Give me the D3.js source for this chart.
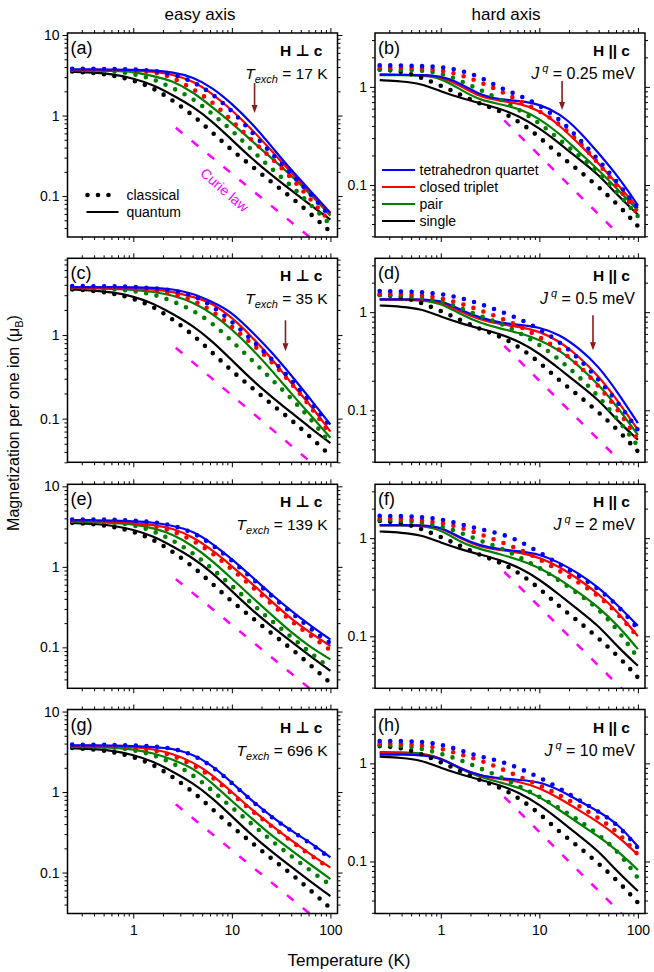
<!DOCTYPE html>
<html>
<head>
<meta charset="utf-8">
<script src="https://cdn.jsdelivr.net/npm/d3@7/dist/d3.min.js"></script>
<style>
  body { margin: 0; background: #fff; }
  svg { display: block; font-family: "Liberation Sans", Arial, "DejaVu Sans", sans-serif; }
</style>
</head>
<body>
<svg id="chart" width="654" height="972"></svg>
<script>
// temperature grid (K) shared by every curve
const temps = [0.24, 0.4, 0.63, 1, 1.6, 2.5, 4, 6.3, 10, 16, 25, 40, 63, 100];

// single ion, same in every panel of a column (Q = quantum, C = classical)
const singleEasyQ = [3.5, 3.42, 3.25, 2.9, 2.4, 1.8, 1.3, 0.85, 0.5, 0.29, 0.185, 0.118, 0.077, 0.051];
const singleEasyC = [3.52, 3.4, 3.15, 2.75, 2.2, 1.55, 1.02, 0.62, 0.37, 0.235, 0.15, 0.097, 0.06, 0.036];
const singleHardQ = [1.17, 1.14, 1.08, 0.9, 0.77, 0.68, 0.6, 0.5, 0.38, 0.265, 0.185, 0.128, 0.077, 0.05];
const singleHardC = [1.5, 1.45, 1.25, 1.03, 0.83, 0.67, 0.57, 0.44, 0.31, 0.2, 0.142, 0.095, 0.063, 0.038];

// (a) easy axis, Texch = 17 K
const quartetQ_a = [3.74, 3.74, 3.72, 3.7, 3.63, 3.46, 3.03, 2.23, 1.41, 0.8, 0.42, 0.21, 0.115, 0.062];
const tripletQ_a = [3.7, 3.69, 3.66, 3.63, 3.5, 3.25, 2.7, 1.88, 1.17, 0.67, 0.37, 0.195, 0.11, 0.06];
const pairQ_a = [3.65, 3.62, 3.58, 3.5, 3.1, 2.7, 1.97, 1.28, 0.81, 0.48, 0.3, 0.18, 0.105, 0.057];
const quartetC_a = [3.82, 3.8, 3.78, 3.74, 3.63, 3.3, 2.67, 1.88, 1.15, 0.62, 0.34, 0.19, 0.105, 0.055];
const tripletC_a = [3.75, 3.74, 3.72, 3.66, 3.5, 3.0, 2.15, 1.5, 0.86, 0.49, 0.3, 0.17, 0.09, 0.048];
const pairC_a = [3.7, 3.65, 3.56, 3.3, 2.85, 2.2, 1.65, 1.05, 0.66, 0.37, 0.22, 0.135, 0.078, 0.044];

// (c) easy axis, Texch = 35 K
const quartetQ_c = [3.76, 3.76, 3.75, 3.73, 3.7, 3.56, 3.16, 2.51, 1.89, 1.09, 0.64, 0.33, 0.17, 0.085];
const tripletQ_c = [3.7, 3.69, 3.66, 3.63, 3.53, 3.31, 2.88, 2.44, 1.63, 0.95, 0.535, 0.265, 0.144, 0.07];
const pairQ_c = [3.65, 3.62, 3.58, 3.5, 3.3, 3.0, 2.49, 1.82, 1.18, 0.685, 0.386, 0.2, 0.11, 0.059];
const quartetC_c = [3.85, 3.85, 3.83, 3.78, 3.65, 3.45, 3.05, 2.25, 1.45, 0.87, 0.53, 0.29, 0.158, 0.08];
const tripletC_c = [3.75, 3.74, 3.7, 3.62, 3.45, 3.15, 2.63, 1.98, 1.26, 0.79, 0.49, 0.265, 0.14, 0.064];
const pairC_c = [3.7, 3.66, 3.55, 3.37, 3.1, 2.55, 2.0, 1.4, 0.85, 0.5, 0.3, 0.175, 0.1, 0.05];

// (e) easy axis, Texch = 139 K
const quartetQ_e = [3.81, 3.8, 3.75, 3.67, 3.57, 3.24, 2.8, 1.96, 1.25, 0.75, 0.46, 0.283, 0.185, 0.125];
const tripletQ_e = [3.72, 3.7, 3.62, 3.5, 3.33, 3.03, 2.36, 1.62, 1.02, 0.62, 0.375, 0.225, 0.151, 0.104];
const pairQ_e = [3.65, 3.6, 3.5, 3.4, 3.03, 2.55, 1.83, 1.2, 0.714, 0.42, 0.257, 0.153, 0.1, 0.071];
const quartetC_e = [3.88, 3.87, 3.85, 3.75, 3.6, 3.3, 2.7, 1.9, 1.2, 0.72, 0.44, 0.27, 0.17, 0.112];
const tripletC_e = [3.78, 3.76, 3.72, 3.55, 3.25, 2.8, 2.15, 1.5, 0.93, 0.57, 0.35, 0.21, 0.14, 0.092];
const pairC_e = [3.7, 3.67, 3.58, 3.3, 2.8, 2.15, 1.5, 0.95, 0.58, 0.35, 0.215, 0.135, 0.085, 0.055];

// (g) easy axis, Texch = 696 K
const quartetQ_g = [3.8, 3.8, 3.78, 3.72, 3.62, 3.48, 2.95, 2.15, 1.31, 0.78, 0.5, 0.33, 0.235, 0.154];
const tripletQ_g = [3.75, 3.74, 3.7, 3.62, 3.42, 3.0, 2.37, 1.65, 1.0, 0.6, 0.39, 0.25, 0.168, 0.115];
const pairQ_g = [3.65, 3.62, 3.55, 3.4, 3.05, 2.55, 2.0, 1.3, 0.77, 0.47, 0.29, 0.19, 0.125, 0.083];
const quartetC_g = [3.88, 3.87, 3.85, 3.8, 3.7, 3.5, 2.95, 2.1, 1.3, 0.77, 0.49, 0.33, 0.23, 0.15];
const tripletC_g = [3.78, 3.76, 3.72, 3.6, 3.35, 2.85, 2.2, 1.55, 0.95, 0.58, 0.38, 0.245, 0.163, 0.112];
const pairC_g = [3.7, 3.67, 3.6, 3.35, 2.9, 2.3, 1.65, 1.05, 0.64, 0.4, 0.25, 0.16, 0.105, 0.07];

// (b) hard axis, Jq = 0.25 meV
const quartetQ_b = [1.33, 1.33, 1.32, 1.3, 1.08, 0.82, 0.745, 0.72, 0.666, 0.536, 0.363, 0.21, 0.122, 0.062];
const tripletQ_b = [1.33, 1.33, 1.32, 1.28, 1.02, 0.79, 0.72, 0.677, 0.579, 0.407, 0.265, 0.166, 0.1, 0.058];
const pairQ_b = [1.32, 1.32, 1.31, 1.24, 0.93, 0.732, 0.666, 0.602, 0.476, 0.335, 0.218, 0.142, 0.089, 0.055];
const quartetC_b = [1.66, 1.65, 1.63, 1.6, 1.47, 1.27, 0.97, 0.82, 0.65, 0.47, 0.3, 0.18, 0.104, 0.058];
const tripletC_b = [1.58, 1.57, 1.55, 1.48, 1.32, 1.12, 0.91, 0.72, 0.57, 0.42, 0.28, 0.165, 0.095, 0.05];
const pairC_b = [1.5, 1.49, 1.47, 1.39, 1.15, 0.93, 0.75, 0.58, 0.43, 0.29, 0.2, 0.135, 0.082, 0.048];

// (d) hard axis, Jq = 0.5 meV
const quartetQ_d = [1.35, 1.35, 1.35, 1.33, 1.05, 0.875, 0.778, 0.743, 0.703, 0.592, 0.433, 0.281, 0.15, 0.074];
const tripletQ_d = [1.35, 1.35, 1.34, 1.3, 1.0, 0.842, 0.749, 0.709, 0.64, 0.506, 0.356, 0.222, 0.124, 0.063];
const pairQ_d = [1.34, 1.34, 1.32, 1.245, 0.947, 0.778, 0.681, 0.615, 0.526, 0.41, 0.286, 0.183, 0.106, 0.056];
const quartetC_d = [1.64, 1.63, 1.6, 1.54, 1.4, 1.22, 1.02, 0.855, 0.676, 0.5, 0.34, 0.205, 0.12, 0.063];
const tripletC_d = [1.55, 1.54, 1.49, 1.4, 1.22, 1.05, 0.875, 0.72, 0.56, 0.416, 0.292, 0.176, 0.101, 0.05];
const pairC_d = [1.5, 1.48, 1.4, 1.3, 1.1, 0.91, 0.778, 0.615, 0.468, 0.329, 0.222, 0.139, 0.08, 0.043];

// (f) hard axis, Jq = 2 meV
const quartetQ_f = [1.36, 1.36, 1.36, 1.31, 1.0, 0.836, 0.767, 0.738, 0.688, 0.566, 0.437, 0.315, 0.205, 0.128];
const tripletQ_f = [1.36, 1.36, 1.35, 1.3, 0.98, 0.816, 0.755, 0.715, 0.636, 0.512, 0.383, 0.27, 0.176, 0.1];
const pairQ_f = [1.35, 1.35, 1.34, 1.23, 0.9, 0.773, 0.688, 0.598, 0.503, 0.383, 0.28, 0.197, 0.128, 0.074];
const quartetC_f = [1.69, 1.68, 1.65, 1.56, 1.39, 1.23, 1.12, 0.94, 0.715, 0.544, 0.414, 0.303, 0.205, 0.119];
const tripletC_f = [1.6, 1.58, 1.52, 1.44, 1.28, 1.1, 0.92, 0.77, 0.612, 0.465, 0.354, 0.259, 0.169, 0.098];
const pairC_f = [1.54, 1.52, 1.44, 1.33, 1.14, 0.94, 0.804, 0.636, 0.503, 0.368, 0.27, 0.19, 0.115, 0.06];

// (h) hard axis, Jq = 10 meV
const quartetQ_h = [1.23, 1.23, 1.22, 1.14, 0.876, 0.749, 0.704, 0.677, 0.651, 0.536, 0.417, 0.323, 0.24, 0.142];
const tripletQ_h = [1.27, 1.27, 1.25, 1.15, 0.876, 0.749, 0.693, 0.651, 0.566, 0.44, 0.335, 0.251, 0.18, 0.117];
const pairQ_h = [1.3, 1.3, 1.28, 1.14, 0.865, 0.726, 0.641, 0.566, 0.458, 0.335, 0.245, 0.18, 0.127, 0.082];
const quartetC_h = [1.69, 1.69, 1.66, 1.57, 1.35, 1.17, 1.06, 0.89, 0.72, 0.557, 0.424, 0.323, 0.236, 0.137];
const tripletC_h = [1.6, 1.58, 1.54, 1.42, 1.23, 1.08, 0.89, 0.73, 0.6, 0.476, 0.371, 0.276, 0.2, 0.117];
const pairC_h = [1.54, 1.52, 1.42, 1.26, 1.08, 0.89, 0.73, 0.58, 0.458, 0.349, 0.265, 0.187, 0.127, 0.068];

// Curie law M = C / T, drawn from its start temperature
const curieConst = [1.9, 2.0];      // easy, hard
const curieStart = [2.7, 4.4];      // K

// tick values and labels
const xTickValues = [1, 10, 100];
const xTickLabels = ["1", "10", "100"];
const yTickValues = [0.1, 1, 10];
const yTickLabels = ["0.1", "1", "10"];

const panelLetters = ["(a)", "(b)", "(c)", "(d)", "(e)", "(f)", "(g)", "(h)"];
const texchValues = ["17", "35", "139", "696"];
const jqValues = ["0.25", "0.5", "2", "10"];
const arrowTemps = [17, 35];        // exchange temperature marks in rows 1 and 2
const seriesNames = ["tetrahedron quartet", "closed triplet", "pair", "single"];
const seriesColors = ["#0000ff", "#ff0000", "#008000", "#000000"];

// ---------------------------------------------------------------
const svg = d3.select("#chart");
const W = 270, H = 204;
const colX = [67.5, 375];
const rowY = [33, 258.3, 484.3, 709.5];
const xDomain = [0.215, 118];

const panels = [
  { col: 0, row: 0, yDom: [0.031, 10.6], q: [quartetQ_a, tripletQ_a, pairQ_a, singleEasyQ], c: [quartetC_a, tripletC_a, pairC_a, singleEasyC], arrow: [50, 80] },
  { col: 1, row: 0, yDom: [0.0295, 3.54], q: [quartetQ_b, tripletQ_b, pairQ_b, singleHardQ], c: [quartetC_b, tripletC_b, pairC_b, singleHardC], arrow: [48, 77] },
  { col: 0, row: 1, yDom: [0.03, 8.3], q: [quartetQ_c, tripletQ_c, pairQ_c, singleEasyQ], c: [quartetC_c, tripletC_c, pairC_c, singleEasyC], arrow: [62, 93] },
  { col: 1, row: 1, yDom: [0.0295, 3.54], q: [quartetQ_d, tripletQ_d, pairQ_d, singleHardQ], c: [quartetC_d, tripletC_d, pairC_d, singleHardC], arrow: [57, 92] },
  { col: 0, row: 2, yDom: [0.031, 10.6], q: [quartetQ_e, tripletQ_e, pairQ_e, singleEasyQ], c: [quartetC_e, tripletC_e, pairC_e, singleEasyC] },
  { col: 1, row: 2, yDom: [0.0295, 3.54], q: [quartetQ_f, tripletQ_f, pairQ_f, singleHardQ], c: [quartetC_f, tripletC_f, pairC_f, singleHardC] },
  { col: 0, row: 3, yDom: [0.031, 10.6], q: [quartetQ_g, tripletQ_g, pairQ_g, singleEasyQ], c: [quartetC_g, tripletC_g, pairC_g, singleEasyC] },
  { col: 1, row: 3, yDom: [0.0295, 3.54], q: [quartetQ_h, tripletQ_h, pairQ_h, singleHardQ], c: [quartetC_h, tripletC_h, pairC_h, singleHardC] }
];

function minorTicks(lo, hi) {
  const out = [];
  for (let e = -3; e <= 3; e++) {
    for (let m = 2; m <= 9; m++) {
      const v = m * Math.pow(10, e);
      if (v >= lo && v <= hi) out.push(v);
    }
  }
  return out;
}

// major + minor ticks on one side, all pointing outwards
function drawAxis(g, axisFn, scale, transform, values, labels) {
  const dom = scale.domain();
  const majors = values.filter(v => v >= dom[0] && v <= dom[1]);
  const major = g.append("g")
    .attr("transform", transform)
    .call(axisFn(scale).tickValues(majors).tickSize(5).tickPadding(labels ? 3 : 0)
      .tickFormat(d => labels ? labels[values.indexOf(d)] : ""));
  const minor = g.append("g")
    .attr("transform", transform)
    .call(axisFn(scale).tickValues(minorTicks(dom[0], dom[1])).tickSize(3).tickFormat(() => ""));
  [major, minor].forEach(a => {
    a.select(".domain").remove();
    a.attr("font-size", null).attr("font-family", null);
    a.selectAll("line").attr("stroke", "#000").attr("stroke-width", 1);
  });
  major.selectAll("text").style("font-size", "14px").attr("fill", "#000");
  return major;
}

panels.forEach((p, i) => {
  const x0 = colX[p.col], top = rowY[p.row];
  const hard = p.col === 1;
  const g = svg.append("g").attr("transform", `translate(${x0},${top})`);
  const x = d3.scaleLog().domain(xDomain).range([0, W]);
  const y = d3.scaleLog().domain(p.yDom).range([H, 0]);

  const clipId = "clip" + i;
  g.append("clipPath").attr("id", clipId)
    .append("rect").attr("width", W).attr("height", H);
  const plot = g.append("g").attr("clip-path", `url(#${clipId})`);

  // Curie law
  const cIdx = hard ? 1 : 0;
  const curieT = [curieStart[cIdx], 140];
  plot.append("path")
    .attr("d", d3.line().x(t => x(t)).y(t => y(curieConst[cIdx] / t))(curieT))
    .attr("fill", "none").attr("stroke", "#ff00ff")
    .attr("stroke-width", 2.5).attr("stroke-dasharray", "8.5,12");

  const line = d3.line()
    .x((d, k) => x(temps[k]))
    .y(d => y(d))
    .curve(d3.curveBasis);

  // quantum: solid lines, single first, quartet on top
  for (let s = 3; s >= 0; s--) {
    plot.append("path").attr("d", line(p.q[s]))
      .attr("fill", "none").attr("stroke", seriesColors[s]).attr("stroke-width", 2.2);
  }
  // classical: dotted lines
  for (let s = 3; s >= 0; s--) {
    plot.append("path").attr("d", line(p.c[s]))
      .attr("fill", "none").attr("stroke", seriesColors[s]).attr("stroke-width", 4.6)
      .attr("stroke-linecap", "round").attr("stroke-dasharray", "0,10.6");
  }

  // frame
  g.append("rect").attr("width", W).attr("height", H)
    .attr("fill", "none").attr("stroke", "#000").attr("stroke-width", 1.5);

  // axes
  drawAxis(g, d3.axisLeft, y, "translate(0,0)", yTickValues, yTickLabels);
  drawAxis(g, d3.axisRight, y, `translate(${W},0)`, yTickValues, null);
  drawAxis(g, d3.axisTop, x, "translate(0,0)", xTickValues, null);
  const bottom = drawAxis(g, d3.axisBottom, x, `translate(0,${H})`, xTickValues, p.row === 3 ? xTickLabels : null);
  if (p.row === 3) bottom.selectAll("text").attr("y", 12);

  // panel letter
  g.append("text").attr("x", 3).attr("y", 21)
    .style("font-size", "18px").text(panelLetters[i]);

  // field direction
  g.append("text").attr("x", W - 15).attr("y", 23)
    .attr("text-anchor", "end").style("font-size", "15.5px").style("font-weight", "bold")
    .text(hard ? "H || c" : "H \u22A5 c");

  // exchange parameter
  const t = g.append("text").attr("x", W - 10).attr("y", 46)
    .attr("text-anchor", "end");
  if (!hard) {
    t.style("font-size", "15.5px");
    t.append("tspan").style("font-style", "italic").text("T");
    t.append("tspan").style("font-style", "italic").style("font-size", "11px").attr("dy", 4).text("exch");
    t.append("tspan").attr("dy", -4).text(" = " + texchValues[p.row] + " K");
  } else {
    t.style("font-size", "16px");
    t.append("tspan").style("font-style", "italic").text("J");
    t.append("tspan").style("font-style", "italic").style("font-size", "11px").attr("dx", 3).attr("dy", -7).text("q");
    t.append("tspan").attr("dy", 7).text(" = " + jqValues[p.row] + " meV");
  }

  // exchange arrow
  if (p.arrow) {
    const ax = x(arrowTemps[p.row]);
    g.append("line").attr("x1", ax).attr("x2", ax)
      .attr("y1", p.arrow[0]).attr("y2", p.arrow[1] - 6)
      .attr("stroke", "#8b1a1a").attr("stroke-width", 1.6);
    g.append("path")
      .attr("d", `M${ax - 3},${p.arrow[1] - 8}L${ax + 3},${p.arrow[1] - 8}L${ax},${p.arrow[1]}Z`)
      .attr("fill", "#8b1a1a");
  }

  // legend: classical / quantum (panel a)
  if (i === 0) {
    [20, 30.5, 41].forEach(dx => {
      g.append("circle").attr("cx", dx).attr("cy", 162).attr("r", 2.3).attr("fill", "#000");
    });
    g.append("text").attr("x", 59).attr("y", 167).style("font-size", "14px").text("classical");
    g.append("line").attr("x1", 19).attr("x2", 51).attr("y1", 179).attr("y2", 179)
      .attr("stroke", "#000").attr("stroke-width", 2.2);
    g.append("text").attr("x", 59).attr("y", 184).style("font-size", "14px").text("quantum");

    g.append("text")
      .attr("transform", `translate(157,157) rotate(41)`)
      .attr("text-anchor", "middle").attr("dy", "0.35em")
      .style("font-size", "14px").attr("fill", "#ff00ff").text("Curie law");
  }

  // legend: cluster types (panel b)
  if (i === 1) {
    seriesNames.forEach((name, s) => {
      const ly = 137 + s * 17;
      g.append("line").attr("x1", 7).attr("x2", 40).attr("y1", ly).attr("y2", ly)
        .attr("stroke", seriesColors[s]).attr("stroke-width", 2.2);
      g.append("text").attr("x", 44.5).attr("y", ly + 5).style("font-size", "14px").text(name);
    });
  }
});

// column titles
svg.append("text").attr("x", 200).attr("y", 20).attr("text-anchor", "middle")
  .style("font-size", "17px").text("easy axis");
svg.append("text").attr("x", 506).attr("y", 20).attr("text-anchor", "middle")
  .style("font-size", "17px").text("hard axis");

// axis titles
svg.append("text").attr("x", 349).attr("y", 966).attr("text-anchor", "middle")
  .style("font-size", "17px").text("Temperature (K)");
const yl = svg.append("text").attr("transform", "translate(18.5,423) rotate(-90)")
  .attr("text-anchor", "middle").style("font-size", "16px");
yl.append("tspan").text("Magnetization per one ion (\u03BC");
yl.append("tspan").attr("dy", 4).style("font-size", "11px").text("B");
yl.append("tspan").attr("dy", -4).text(")");
</script>
</body>
</html>
